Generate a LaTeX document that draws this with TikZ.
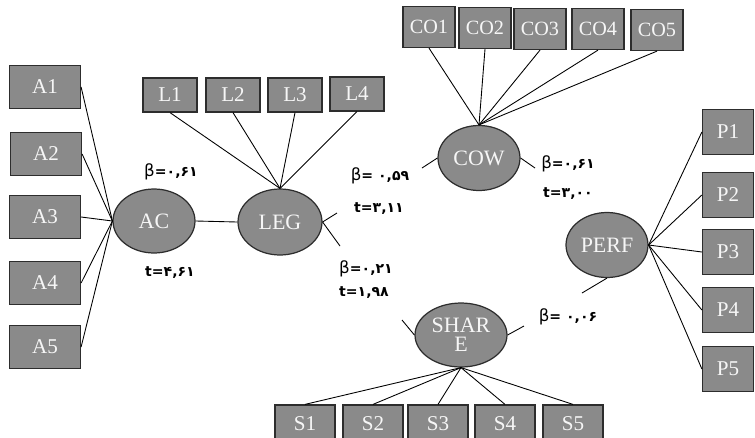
\documentclass[tikz,border=0pt]{standalone}
\usepackage{fontspec}
\setmainfont{Liberation Serif}
\newfontfamily\fafont{DejaVu Sans}
\usetikzlibrary{shapes.geometric, positioning}

\definecolor{fillgray}{RGB}{138,138,138}
\definecolor{edgegray}{RGB}{45,45,45}
\definecolor{textwhite}{RGB}{246,246,246}

\newcommand{\bsym}{{\mdseries\fontsize{9.5}{10}\selectfont β}}

\begin{document}
\begin{tikzpicture}[
    x=0.02cm, y=-0.02cm,
    item/.style={draw=edgegray, fill=fillgray, rectangle, inner sep=0pt, text=textwhite, font=\fontsize{12}{13}\selectfont, line width=0.7pt},
    abox/.style={item, minimum width=1.42cm, minimum height=0.86cm},
    lbox/.style={item, minimum width=1.08cm, minimum height=0.68cm},
    cbox/.style={item, minimum width=1.04cm, minimum height=0.82cm, font=\fontsize{11.5}{12}\selectfont},
    sbox/.style={item, minimum width=1.2cm, minimum height=0.76cm},
    pbox/.style={item, minimum width=1.02cm, minimum height=0.9cm},
    latent/.style={draw=edgegray, fill=fillgray, ellipse, inner sep=0pt, text=textwhite, font=\fontsize{12.5}{13}\selectfont, align=center, line width=0.7pt},
    coef/.style={font=\fafont\bfseries\fontsize{8}{9}\selectfont, inner sep=1pt},
    link/.style={draw=black, line width=0.5pt}
]
\useasboundingbox (0,0) rectangle (755,437);

% Latent variables
\node[latent, minimum width=1.64cm, minimum height=1.28cm] (ac) at (154,221) {AC};
\node[latent, minimum width=1.68cm, minimum height=1.32cm] (leg) at (280,222) {LEG};
\node[latent, minimum width=1.64cm, minimum height=1.3cm] (cow) at (479,158) {COW};
\node[latent, minimum width=1.84cm, minimum height=1.28cm] (share) at (461,335) {SHAR\\[-2pt]E};
\node[latent, minimum width=1.64cm, minimum height=1.3cm] (perf) at (607,245) {PERF};

% AC indicators
\node[abox] (a1) at (45,87) {A1};
\node[abox] (a2) at (46,154) {A2};
\node[abox] (a3) at (45,217) {A3};
\node[abox] (a4) at (45,283) {A4};
\node[abox] (a5) at (45,347) {A5};

% LEG indicators
\node[lbox] (l1) at (170,95) {L1};
\node[lbox] (l2) at (233,95) {L2};
\node[lbox] (l3) at (295,95) {L3};
\node[lbox] (l4) at (357,94) {L4};

% COW indicators
\node[cbox] (co1) at (429,27) {CO1};
\node[cbox] (co2) at (485,28) {CO2};
\node[cbox] (co3) at (540,29) {CO3};
\node[cbox] (co4) at (598,29) {CO4};
\node[cbox] (co5) at (657,30) {CO5};

% SHARE indicators
\node[sbox] (s1) at (305,424) {S1};
\node[sbox] (s2) at (373,424) {S2};
\node[sbox] (s3) at (438,424) {S3};
\node[sbox] (s4) at (505,424) {S4};
\node[sbox] (s5) at (573,424) {S5};

% PERF indicators
\node[pbox] (p1) at (728,132) {P1};
\node[pbox] (p2) at (728,195) {P2};
\node[pbox] (p3) at (728,252) {P3};
\node[pbox] (p4) at (728,310) {P4};
\node[pbox] (p5) at (728,369) {P5};

% Coefficients
\node[coef] (b1) at (171,172) {\bsym=۰,۶۱};
\node[coef] (t1) at (170,273) {t=۴,۶۱};
\node[coef] (b2) at (380,176) {\bsym= ۰,۵۹};
\node[coef] (t2) at (379,209) {t=۳,۱۱};
\node[coef] (b3) at (568,164) {\bsym=۰,۶۱};
\node[coef] (t3) at (568,194) {t=۳,۰۰};
\node[coef] (b4) at (366,269) {\bsym=۰,۲۱};
\node[coef] (t4) at (364,293) {t=۱,۹۸};
\node[coef] (b5) at (568,317) {\bsym= ۰,۰۶};

% Stub ends
\coordinate (legup) at (337,213);
\coordinate (legdown) at (340,246);
\coordinate (cowleft) at (422,168);
\coordinate (cowright) at (535,168);
\coordinate (shareleft) at (402,320);
\coordinate (shareright) at (524,326);
\coordinate (perfdown) at (582,293);

% Indicator links
\draw[link] (a1.east) -- (ac.west);
\draw[link] (a2.east) -- (ac.west);
\draw[link] (a3.east) -- (ac.west);
\draw[link] (a4.east) -- (ac.west);
\draw[link] (a5.east) -- (ac.west);
\draw[link] (l1.south) -- (leg.north);
\draw[link] (l2.south) -- (leg.north);
\draw[link] (l3.south) -- (leg.north);
\draw[link] (l4.south) -- (leg.north);
\draw[link] (co1.south) -- (cow.north);
\draw[link] (co2.south) -- (cow.north);
\draw[link] (co3.south) -- (cow.north);
\draw[link] (co4.south) -- (cow.north);
\draw[link] (co5.south) -- (cow.north);
\draw[link] (s1.north) -- (share.south);
\draw[link] (s2.north) -- (share.south);
\draw[link] (s3.north) -- (share.south);
\draw[link] (s4.north) -- (share.south);
\draw[link] (s5.north) -- (share.south);
\draw[link] (perf.east) -- (p1.west);
\draw[link] (perf.east) -- (p2.west);
\draw[link] (perf.east) -- (p3.west);
\draw[link] (perf.east) -- (p4.west);
\draw[link] (perf.east) -- (p5.west);

% Structural links
\draw[link] (ac.east) -- (leg.west);
\draw[link] (leg.east) -- (legup);
\draw[link] (leg.east) -- (legdown);
\draw[link] (cow.west) -- (cowleft);
\draw[link] (cow.east) -- (cowright);
\draw[link] (share.west) -- (shareleft);
\draw[link] (share.east) -- (shareright);
\draw[link] (perf.south) -- (perfdown);

\end{tikzpicture}
\end{document}
